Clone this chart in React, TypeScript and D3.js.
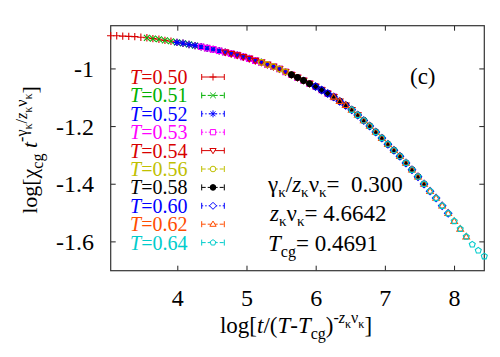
import React from "react";
import * as d3 from "d3";

// ---------- data ----------
const temps = ["0.50", "0.51", "0.52", "0.53", "0.54", "0.56", "0.58", "0.60", "0.62", "0.64"];
const colors = ["#d80000", "#00b000", "#0000ff", "#ff00ff", "#d80000", "#c0c000", "#000000", "#0000ff", "#ff4d00", "#00cccc"];
const markers = ["plus", "cross", "star", "square", "triDown", "circle", "dot", "diamond", "triUp", "pentagon"];
const dashes = ["", "4,2", "1.5,2", "1.5,2", "", "4,2", "4,2", "1.5,2", "4,2", "4,2"];

const x050 = [3.030, 3.117, 3.204, 3.291, 3.378, 3.466, 3.553, 3.640, 3.727, 3.814, 3.901, 3.988, 4.075, 4.162, 4.249, 4.337, 4.424, 4.511, 4.598, 4.685, 4.772, 4.859, 4.946];
const y050 = [-0.885, -0.885, -0.886, -0.887, -0.888, -0.890, -0.892, -0.895, -0.897, -0.901, -0.904, -0.908, -0.911, -0.915, -0.919, -0.923, -0.928, -0.932, -0.937, -0.942, -0.947, -0.952, -0.958];

const x051 = [3.553, 3.640, 3.727, 3.814, 3.901, 3.988, 4.075, 4.162, 4.249, 4.337, 4.424, 4.511, 4.598, 4.685, 4.772, 4.859, 4.946, 5.033, 5.120, 5.208, 5.295, 5.382, 5.469];
const y051 = [-0.892, -0.895, -0.897, -0.901, -0.904, -0.908, -0.911, -0.915, -0.919, -0.923, -0.928, -0.932, -0.937, -0.942, -0.947, -0.952, -0.958, -0.964, -0.971, -0.977, -0.985, -0.992, -1.000];

const x052 = [3.988, 4.075, 4.162, 4.249, 4.337, 4.424, 4.511, 4.598, 4.685, 4.772, 4.859, 4.946, 5.033, 5.120, 5.208, 5.295, 5.382, 5.469, 5.556, 5.643, 5.730, 5.817, 5.904];
const y052 = [-0.908, -0.911, -0.915, -0.919, -0.923, -0.928, -0.932, -0.937, -0.942, -0.947, -0.952, -0.958, -0.964, -0.971, -0.977, -0.985, -0.992, -1.000, -1.010, -1.020, -1.030, -1.040, -1.051];

const x053 = [4.337, 4.424, 4.511, 4.598, 4.685, 4.772, 4.859, 4.946, 5.033, 5.120, 5.208, 5.295, 5.382, 5.469, 5.556, 5.643, 5.730, 5.817, 5.904, 5.991, 6.079, 6.166, 6.253];
const y053 = [-0.923, -0.928, -0.932, -0.937, -0.942, -0.947, -0.952, -0.958, -0.964, -0.971, -0.977, -0.985, -0.992, -1.000, -1.010, -1.020, -1.030, -1.040, -1.051, -1.061, -1.073, -1.085, -1.097];

const x054 = [4.685, 4.772, 4.859, 4.946, 5.033, 5.120, 5.208, 5.295, 5.382, 5.469, 5.556, 5.643, 5.730, 5.817, 5.904, 5.991, 6.079, 6.166, 6.253, 6.340, 6.427, 6.514, 6.601];
const y054 = [-0.942, -0.947, -0.952, -0.958, -0.964, -0.971, -0.977, -0.985, -0.992, -1.000, -1.010, -1.020, -1.030, -1.040, -1.051, -1.061, -1.073, -1.085, -1.097, -1.112, -1.126, -1.142, -1.160];

const x056 = [5.208, 5.295, 5.382, 5.469, 5.556, 5.643, 5.730, 5.817, 5.904, 5.991, 6.079, 6.166, 6.253, 6.340, 6.427, 6.514, 6.601, 6.688, 6.775, 6.862, 6.950, 7.037, 7.124];
const y056 = [-0.977, -0.985, -0.992, -1.000, -1.010, -1.020, -1.030, -1.040, -1.051, -1.061, -1.073, -1.085, -1.097, -1.112, -1.126, -1.142, -1.160, -1.179, -1.198, -1.219, -1.240, -1.261, -1.282];

const x058 = [5.643, 5.730, 5.817, 5.904, 5.991, 6.079, 6.166, 6.253, 6.340, 6.427, 6.514, 6.601, 6.688, 6.775, 6.862, 6.950, 7.037, 7.124, 7.211, 7.298, 7.385, 7.472, 7.559];
const y058 = [-1.020, -1.030, -1.040, -1.051, -1.061, -1.073, -1.085, -1.097, -1.112, -1.126, -1.142, -1.160, -1.179, -1.198, -1.219, -1.240, -1.261, -1.282, -1.303, -1.326, -1.350, -1.374, -1.399];

const x060 = [5.991, 6.079, 6.166, 6.253, 6.340, 6.427, 6.514, 6.601, 6.688, 6.775, 6.862, 6.950, 7.037, 7.124, 7.211, 7.298, 7.385, 7.472, 7.559, 7.646, 7.733, 7.821, 7.908];
const y060 = [-1.061, -1.073, -1.085, -1.097, -1.112, -1.126, -1.142, -1.160, -1.179, -1.198, -1.219, -1.240, -1.261, -1.282, -1.303, -1.326, -1.350, -1.374, -1.399, -1.424, -1.448, -1.475, -1.501];

const x062 = [6.253, 6.340, 6.427, 6.514, 6.601, 6.688, 6.775, 6.862, 6.950, 7.037, 7.124, 7.211, 7.298, 7.385, 7.472, 7.559, 7.646, 7.733, 7.821, 7.908, 7.995, 8.082, 8.169];
const y062 = [-1.097, -1.112, -1.126, -1.142, -1.160, -1.179, -1.198, -1.219, -1.240, -1.261, -1.282, -1.303, -1.326, -1.350, -1.374, -1.399, -1.424, -1.448, -1.475, -1.501, -1.528, -1.555, -1.582];

const x064 = [6.514, 6.601, 6.688, 6.775, 6.862, 6.950, 7.037, 7.124, 7.211, 7.298, 7.385, 7.472, 7.559, 7.646, 7.733, 7.821, 7.908, 7.995, 8.082, 8.169, 8.256, 8.343, 8.430];
const y064 = [-1.142, -1.160, -1.179, -1.198, -1.219, -1.240, -1.261, -1.282, -1.303, -1.326, -1.350, -1.374, -1.399, -1.424, -1.448, -1.475, -1.501, -1.528, -1.555, -1.582, -1.609, -1.630, -1.650];

const seriesX = [x050, x051, x052, x053, x054, x056, x058, x060, x062, x064];
const seriesY = [y050, y051, y052, y053, y054, y056, y058, y060, y062, y064];

const xDomain = [3.03, 8.43];
const yDomain = [-1.7, -0.85];
const xTicks = [4, 5, 6, 7, 8];
const xTickLabels = ["4", "5", "6", "7", "8"];
const yTicks = [-1.6, -1.4, -1.2, -1];
const yTickLabels = ["-1.6", "-1.4", "-1.2", "-1"];
const paramValues = ["0.300", "4.6642", "0.4691"];

// ---------- layout ----------
const W = 500, H = 357;
const L = 110.7, R = 484.3, T = 25.7, B = 270.7;
const FONT = "Liberation Serif, DejaVu Serif, serif";

function markerPath(type: string, s: number): string {
  const p = d3.path();
  switch (type) {
    case "plus":
      p.moveTo(-s, 0); p.lineTo(s, 0); p.moveTo(0, -s); p.lineTo(0, s); break;
    case "cross":
      p.moveTo(-s * 0.8, -s * 0.8); p.lineTo(s * 0.8, s * 0.8); p.moveTo(-s * 0.8, s * 0.8); p.lineTo(s * 0.8, -s * 0.8); break;
    case "star":
      p.moveTo(-s, 0); p.lineTo(s, 0); p.moveTo(0, -s); p.lineTo(0, s);
      p.moveTo(-s * 0.7, -s * 0.7); p.lineTo(s * 0.7, s * 0.7); p.moveTo(-s * 0.7, s * 0.7); p.lineTo(s * 0.7, -s * 0.7); break;
    case "square":
      p.rect(-s * 0.75, -s * 0.75, s * 1.5, s * 1.5); break;
    case "triDown":
      p.moveTo(-s * 0.9, -s * 0.6); p.lineTo(s * 0.9, -s * 0.6); p.lineTo(0, s * 0.9); p.closePath(); break;
    case "triUp":
      p.moveTo(-s * 0.9, s * 0.6); p.lineTo(s * 0.9, s * 0.6); p.lineTo(0, -s * 0.9); p.closePath(); break;
    case "circle":
    case "dot":
      p.arc(0, 0, s * 0.8, 0, Math.PI * 2); p.closePath(); break;
    case "diamond":
      p.moveTo(0, -s); p.lineTo(s, 0); p.lineTo(0, s); p.lineTo(-s, 0); p.closePath(); break;
    case "pentagon": {
      for (let k = 0; k < 5; k++) {
        const a = -Math.PI / 2 + (k * 2 * Math.PI) / 5;
        const px = Math.cos(a) * s * 0.85, py = Math.sin(a) * s * 0.85;
        if (k === 0) p.moveTo(px, py); else p.lineTo(px, py);
      }
      p.closePath(); break;
    }
  }
  return p.toString();
}

type Seg = { t: string; size?: number; shift?: number; it?: boolean };

function RichText({ x, y, segs, size, anchor, fill, transform }: { x?: number; y?: number; segs: Seg[]; size: number; anchor?: string; fill?: string; transform?: string }) {
  let cur = 0;
  return (
    <text x={x} y={y} textAnchor={anchor || "start"} fill={fill || "#000"} transform={transform} style={{ whiteSpace: "pre", fontFamily: FONT, fontSize: size + "px" }}>
      {segs.map((s, i) => {
        const sh = s.shift || 0;
        const dy = sh - cur;
        cur = sh;
        return (
          <tspan key={i} dy={dy} style={{ fontSize: (s.size || size) + "px", fontStyle: s.it ? "italic" : "normal" }}>
            {s.t}
          </tspan>
        );
      })}
    </text>
  );
}

export default function App() {
  const x = d3.scaleLinear().domain(xDomain).range([L, R]);
  const y = d3.scaleLinear().domain(yDomain).range([B, T]);

  const legendY0 = 77, legendDy = 18.4;

  const sub = 16, subSh = 6;
  const yLabel: Seg[] = [
    { t: "log[χ" },
    { t: "cg", size: sub, shift: subSh },
    { t: " " },
    { t: "t", it: true },
    { t: "-γ", size: sub, shift: -10 },
    { t: "κ", size: 12, shift: -5 },
    { t: "/", size: sub, shift: -10 },
    { t: "z", size: sub, shift: -10, it: true },
    { t: "κ", size: 12, shift: -5 },
    { t: "ν", size: sub, shift: -10 },
    { t: "κ", size: 12, shift: -5 },
    { t: "]", shift: 0 },
  ];
  const xLabel: Seg[] = [
    { t: "log[" },
    { t: "t", it: true },
    { t: "/(" },
    { t: "T", it: true },
    { t: "-" },
    { t: "T", it: true },
    { t: "cg", size: sub, shift: subSh },
    { t: ")", shift: 0 },
    { t: "-", size: sub, shift: -10 },
    { t: "z", size: sub, shift: -10, it: true },
    { t: "κ", size: 12, shift: -5 },
    { t: "ν", size: sub, shift: -10 },
    { t: "κ", size: 12, shift: -5 },
    { t: "]", shift: 0 },
  ];
  const line1: Seg[] = [
    { t: "γ" }, { t: "κ", size: 15, shift: 5 }, { t: "/", shift: 0 }, { t: "z", it: true },
    { t: "κ", size: 15, shift: 5 }, { t: "ν", shift: 0 }, { t: "κ", size: 15, shift: 5 },
    { t: "=  " + paramValues[0], shift: 0 },
  ];
  const line2: Seg[] = [
    { t: "z", it: true }, { t: "κ", size: 15, shift: 5 }, { t: "ν", shift: 0 },
    { t: "κ", size: 15, shift: 5 }, { t: "= " + paramValues[1], shift: 0 },
  ];
  const line3: Seg[] = [
    { t: "T", it: true }, { t: "cg", size: 16, shift: 6 }, { t: "= " + paramValues[2], shift: 0 },
  ];

  return (
    <svg width={W} height={H} style={{ position: "absolute", left: 0, top: 0, background: "#fff", fontFamily: FONT }}>
      <rect x={0} y={0} width={W} height={H} fill="#fff" />
      {/* ticks */}
      {xTicks.map((t) => (
        <g key={"xt" + t} stroke="#222" strokeWidth={1}>
          <line x1={x(t)} x2={x(t)} y1={B} y2={B - 5} />
          <line x1={x(t)} x2={x(t)} y1={T} y2={T + 5} />
        </g>
      ))}
      {yTicks.map((t) => (
        <g key={"yt" + t} stroke="#222" strokeWidth={1}>
          <line x1={L} x2={L + 5} y1={y(t)} y2={y(t)} />
          <line x1={R} x2={R - 5} y1={y(t)} y2={y(t)} />
        </g>
      ))}
      <rect x={L} y={T} width={R - L} height={B - T} fill="none" stroke="#333" strokeWidth={1.2} />
      {xTicks.map((t, i) => (
        <text key={"xl" + t} x={x(t)} y={306} textAnchor="middle" style={{ fontFamily: FONT, fontSize: "24px" }}>{xTickLabels[i]}</text>
      ))}
      {yTicks.map((t, i) => (
        <text key={"yl" + t} x={94} y={y(t) + 8} textAnchor="end" style={{ fontFamily: FONT, fontSize: "24px" }}>{yTickLabels[i]}</text>
      ))}

      {/* data */}
      {seriesX.map((xs, si) => (
        <g key={"s" + si} stroke={colors[si]} strokeWidth={1.1} fill={markers[si] === "dot" ? colors[si] : "none"}>
          {xs.map((xv, j) => (
            <path key={j} d={markerPath(markers[si], 3.7)} transform={`translate(${x(xv)},${y(seriesY[si][j])})`} />
          ))}
        </g>
      ))}

      {/* legend */}
      {temps.map((t, i) => {
        const cy = legendY0 + i * legendDy;
        return (
          <g key={"lg" + i}>
            <text x={130} y={cy + 7} fill={colors[i]} style={{ fontFamily: FONT, fontSize: "20px" }}>
              <tspan style={{ fontStyle: "italic" }}>T</tspan>={t}
            </text>
            <g stroke={colors[i]} strokeWidth={1} fill={markers[i] === "dot" ? colors[i] : "none"}>
              <line x1={201.7} x2={224.3} y1={cy} y2={cy} strokeDasharray={dashes[i]} />
              <line x1={201.7} x2={201.7} y1={cy - 3} y2={cy + 3} />
              <line x1={224.3} x2={224.3} y1={cy - 3} y2={cy + 3} />
              <path d={markerPath(markers[i], 3.5)} transform={`translate(213,${cy})`} fill={markers[i] === "dot" ? colors[i] : "#fff"} />
            </g>
          </g>
        );
      })}

      <text x={410} y={84} style={{ fontFamily: FONT, fontSize: "23px" }}>(c)</text>

      <RichText x={268} y={192} size={23} segs={line1} />
      <RichText x={270} y={221} size={23} segs={line2} />
      <RichText x={268} y={251} size={23} segs={line3} />

      <RichText segs={yLabel} size={22} anchor="middle" transform="translate(37,150) rotate(-90)" />
      <RichText x={296} y={333} segs={xLabel} size={23} anchor="middle" />
    </svg>
  );
}
